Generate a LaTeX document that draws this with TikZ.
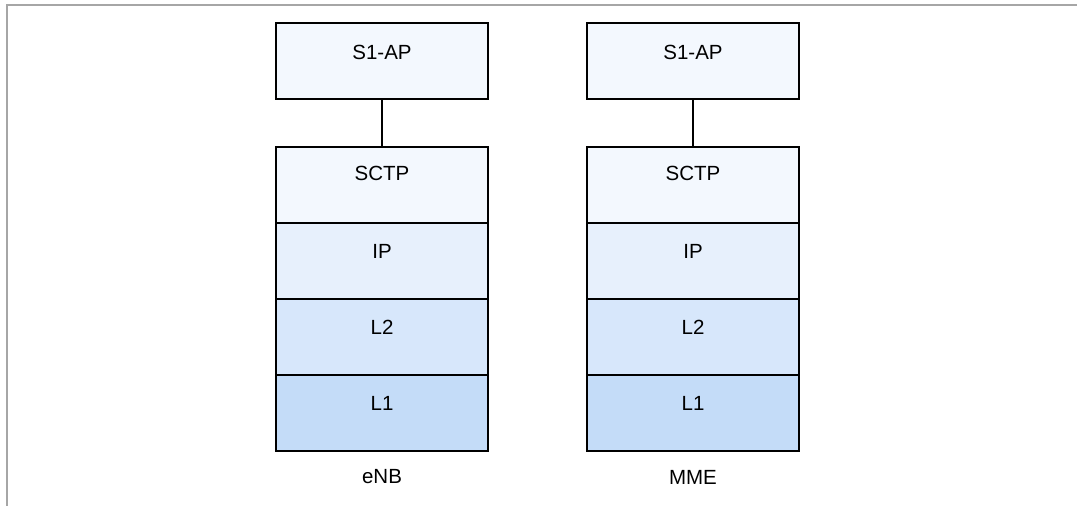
\documentclass[tikz,border=0pt]{standalone}
\usepackage{fontspec}
\setmainfont{Liberation Sans}
\definecolor{fA}{HTML}{F3F8FE}
\definecolor{fB}{HTML}{E7F0FC}
\definecolor{fC}{HTML}{D7E7FB}
\definecolor{fD}{HTML}{C4DCF8}
\definecolor{framegray}{HTML}{A6A6A6}
\tikzset{
  layer/.style={draw=black, line width=1.5pt, minimum width=212pt, minimum height=76pt, inner sep=0pt, outer sep=0pt},
  lbl/.style={font=\fontsize{20.5}{20.5}\selectfont, anchor=center},
  link/.style={draw=black, line width=1.5pt},
  caption/.style={font=\fontsize{20.5}{20.5}\selectfont, anchor=center}
}
\begin{document}
\begin{tikzpicture}[x=1pt,y=-1pt]
\useasboundingbox (0,0) rectangle (1077,506);
\draw[framegray, line width=2pt] (7,506) -- (7,5) -- (1077,5);
% eNB stack
\node[layer, fill=fA, label={[lbl,yshift=-29pt]north:S1-AP}] (eS) at (382,61) {};
\node[layer, fill=fA, label={[lbl,yshift=-26pt]north:SCTP}] (eC) at (382,185) {};
\node[layer, fill=fB, label={[lbl,yshift=-28pt]north:IP}] (eI) at (382,261) {};
\node[layer, fill=fC, label={[lbl,yshift=-28pt]north:L2}] (eL2) at (382,337) {};
\node[layer, fill=fD, label={[lbl,yshift=-28pt]north:L1}] (eL1) at (382,413) {};
\node[caption] (eN) at (382,477) {eNB};
\draw[link] (eS.south) -- (eC.north);
% MME stack
\node[layer, fill=fA, label={[lbl,yshift=-29pt]north:S1-AP}] (mS) at (693,61) {};
\node[layer, fill=fA, label={[lbl,yshift=-26pt]north:SCTP}] (mC) at (693,185) {};
\node[layer, fill=fB, label={[lbl,yshift=-28pt]north:IP}] (mI) at (693,261) {};
\node[layer, fill=fC, label={[lbl,yshift=-28pt]north:L2}] (mL2) at (693,337) {};
\node[layer, fill=fD, label={[lbl,yshift=-28pt]north:L1}] (mL1) at (693,413) {};
\node[caption] (mN) at (693,477) {MME};
\draw[link] (mS.south) -- (mC.north);
\end{tikzpicture}
\end{document}
